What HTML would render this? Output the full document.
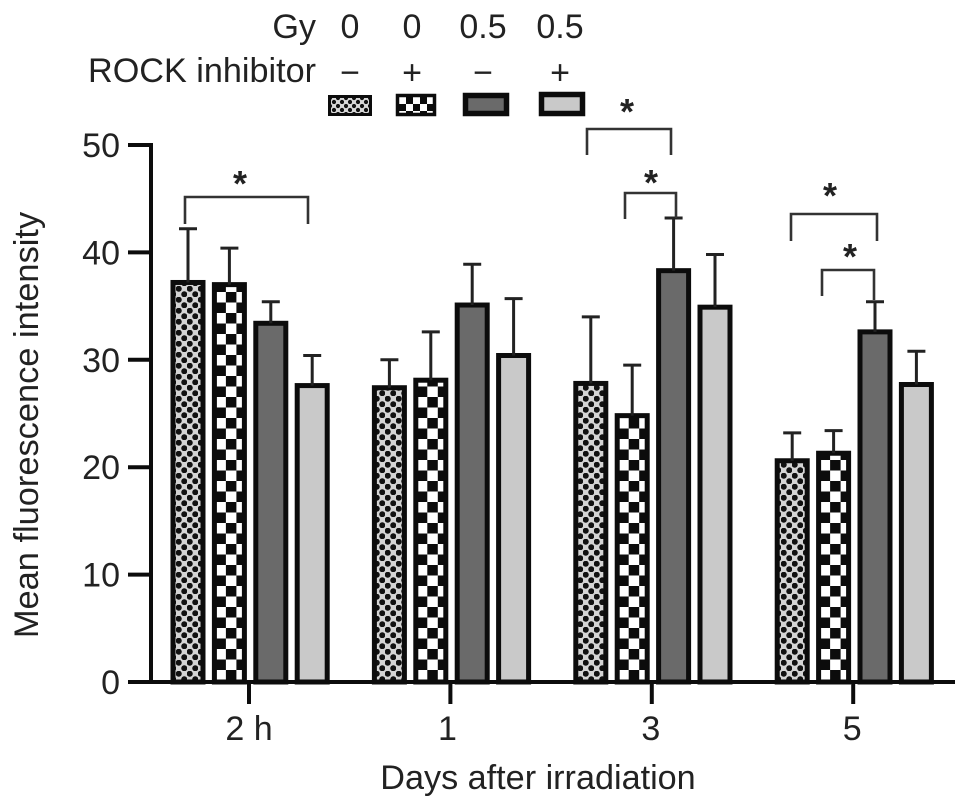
<!DOCTYPE html>
<html lang="en">
<head>
<meta charset="utf-8">
<title>Mean fluorescence intensity</title>
<style>
html,body{margin:0;padding:0;background:#fff;width:969px;height:810px;overflow:hidden}
svg{display:block}
text{font-family:"Liberation Sans",sans-serif;fill:#222}
</style>
</head>
<body>
<svg id="chart" xmlns="http://www.w3.org/2000/svg" width="969" height="810" viewBox="0 0 969 810">
<defs id="defs">
<pattern id="p0" width="11" height="11" patternUnits="userSpaceOnUse" x="0" y="0">
<rect width="11" height="11" fill="#d4d4d4"/>
<circle cx="2.75" cy="2.75" r="3" fill="#111"/>
<circle cx="8.25" cy="8.25" r="3" fill="#111"/>
</pattern>
<pattern id="legend-p0" width="8" height="8" patternUnits="userSpaceOnUse" x="0" y="0">
<rect width="8" height="8" fill="#d8d8d8"/>
<circle cx="2" cy="2" r="2.1" fill="#111"/>
<circle cx="6" cy="6" r="2.1" fill="#111"/>
</pattern>
<pattern id="legend-p1" width="14" height="14" patternUnits="userSpaceOnUse" x="399" y="97">
<rect width="14" height="14" fill="#0c0c0c"/>
<rect x="0" y="0" width="7" height="7" fill="#fff"/>
<rect x="7" y="7" width="7" height="7" fill="#fff"/>
</pattern>
</defs>
<g id="legend"></g>
<g id="bars"></g>
<g id="errors"></g>
<g id="axes"></g>
<g id="sig"></g>
<text transform="translate(38,425) rotate(-90)" text-anchor="middle" font-size="34.4">Mean fluorescence intensity</text>
<text x="538" y="789" text-anchor="middle" font-size="34.2">Days after irradiation</text>
<text x="316" y="38" text-anchor="end" font-size="34.2">Gy</text>
<text x="316" y="82" text-anchor="end" font-size="34.2">ROCK inhibitor</text>
</svg>
<script>
const categories = ['2 h', '1', '3', '5'];
const seriesMock = [37.2, 27.4, 27.8, 20.6];
const seriesRock = [37.0, 28.1, 24.8, 21.3];
const seriesGy = [33.4, 35.1, 38.3, 32.6];
const seriesGyRock = [27.6, 30.4, 34.9, 27.7];
const errorMock = [5.0, 2.6, 6.2, 2.6];
const errorRock = [3.4, 4.5, 4.7, 2.1];
const errorGy = [2.0, 3.8, 4.9, 2.8];
const errorGyRock = [2.8, 5.3, 4.9, 3.1];
const yTicks = [0, 10, 20, 30, 40, 50];
const gyLabels = ['0', '0', '0.5', '0.5'];
const rockLabels = ['\u2212', '+', '\u2212', '+'];
const NS = 'http://www.w3.org/2000/svg';
const series = [seriesMock, seriesRock, seriesGy, seriesGyRock];
const errors = [errorMock, errorRock, errorGy, errorGyRock];
const fills = ['url(#p0)', null, '#6a6a6a', '#c9c9c9'];
const seriesNames = ['control', 'rock-inhibitor', 'irradiated', 'irradiated-rock-inhibitor'];
function y(v) { return 682 - v * 10.74; }
function groupX(g) { return 171 + g * 201.4; }
function barLeft(g, s) { return groupX(g) + s * 41.4; }
function mk(parent, tag, attrs, text) {
  const el = document.createElementNS(NS, tag);
  for (const k in attrs) el.setAttribute(k, attrs[k]);
  if (text !== undefined) el.textContent = text;
  document.getElementById(parent).appendChild(el);
  return el;
}
const barW = 34;
categories.forEach(function (c, g) {
  const cellX = barLeft(g, 1) + 3;
  const pat = mk('defs', 'pattern', {id: 'checker-' + g, width: 21, height: 21, patternUnits: 'userSpaceOnUse', x: cellX, y: 659.5});
  const pid = 'checker-' + g;
  mk(pid, 'rect', {width: 21, height: 21, fill: '#fff'});
  mk(pid, 'rect', {x: 0, y: 0, width: 10.5, height: 10.5, fill: '#0c0c0c'});
  mk(pid, 'rect', {x: 10.5, y: 10.5, width: 10.5, height: 10.5, fill: '#0c0c0c'});
  series.forEach(function (vals, s) {
    const x = barLeft(g, s);
    const cx = x + barW / 2;
    const top = y(vals[g] + errors[s][g]);
    const stem = mk('errors', 'line', {x1: cx, x2: cx, y1: y(vals[g]), y2: top, stroke: '#222', 'stroke-width': 3});
    
    
    const cap = mk('errors', 'line', {x1: cx - 9, x2: cx + 9, y1: top, y2: top, stroke: '#222', 'stroke-width': 3});
    
    
    const r = mk('bars', 'rect', {x: x + 2, y: y(vals[g]), width: barW - 4, height: 682 - y(vals[g]), fill: s === 1 ? 'url(#' + pid + ')' : fills[s], stroke: '#0c0c0c', 'stroke-width': 5});
    
    
  });
  const tx = 249 + g * 201.4;
  const t = mk('axes', 'line', {x1: tx, x2: tx, y1: 682, y2: 704, stroke: '#0c0c0c', 'stroke-width': 4});
  
  
  const lb = mk('axes', 'text', {x: tx - (g === 1 ? 3 : g === 0 ? 0 : 1), y: 740, 'text-anchor': 'middle', 'font-size': 34}, c);
  
  
});
const yAxis = mk('axes', 'line', {x1: 151, x2: 151, y1: 143, y2: 684, stroke: '#0c0c0c', 'stroke-width': 4});


const xAxis = mk('axes', 'line', {x1: 128, x2: 955, y1: 682, y2: 682, stroke: '#0c0c0c', 'stroke-width': 4});


yTicks.forEach(function (v) {
  const t = mk('axes', 'line', {x1: 128, x2: 151, y1: y(v), y2: y(v), stroke: '#0c0c0c', 'stroke-width': 4});
  
  
  const l = mk('axes', 'text', {x: 120, y: y(v) + 12, 'text-anchor': 'end', 'font-size': 34}, v);
  
  
});
const legendCenters = [350, 412, 483, 560];
const legendFills = ['url(#legend-p0)', 'url(#legend-p1)', '#6a6a6a', '#c9c9c9'];
const legendBoxes = [[329.5, 96.5, 41, 18, 3], [397.5, 95.5, 37, 19, 3.5], [465.5, 95.5, 41, 18, 5.5], [541.5, 94.5, 41, 19, 5.5]];
gyLabels.forEach(function (g, i) {
  const a = mk('legend', 'text', {x: legendCenters[i], y: 38, 'text-anchor': 'middle', 'font-size': 34}, g);
  
  
  const b = mk('legend', 'text', {x: legendCenters[i], y: 84, 'text-anchor': 'middle', 'font-size': 34}, rockLabels[i]);
  
  
  const box = legendBoxes[i];
  const sw = mk('legend', 'rect', {x: box[0], y: box[1], width: box[2], height: box[3], fill: legendFills[i], stroke: '#0c0c0c', 'stroke-width': box[4]});
  
  
});
function bracket(name, x1, x2, top, drop1, drop2, starX, starY) {
  const p = mk('sig', 'path', {d: 'M' + x1 + ' ' + drop1 + 'V' + top + 'H' + x2 + 'V' + drop2, fill: 'none', stroke: '#333', 'stroke-width': 2.6});
  
  
  const s = mk('sig', 'text', {x: starX, y: starY + 15, 'text-anchor': 'middle', 'font-size': 36, 'font-weight': 'bold'}, '*');
  
  
}
bracket('bracket-2h', 185, 308, 197, 224, 224, 240, 181);
bracket('bracket-day3-outer', 587, 671, 129, 155, 155, 627, 109);
bracket('bracket-day3-inner', 625, 676, 193, 219, 218, 651, 180);
bracket('bracket-day5-outer', 791, 877, 214, 241, 241, 830, 193);
bracket('bracket-day5-inner', 822, 874, 270, 296, 300, 850, 254);
</script>
</body>
</html>
